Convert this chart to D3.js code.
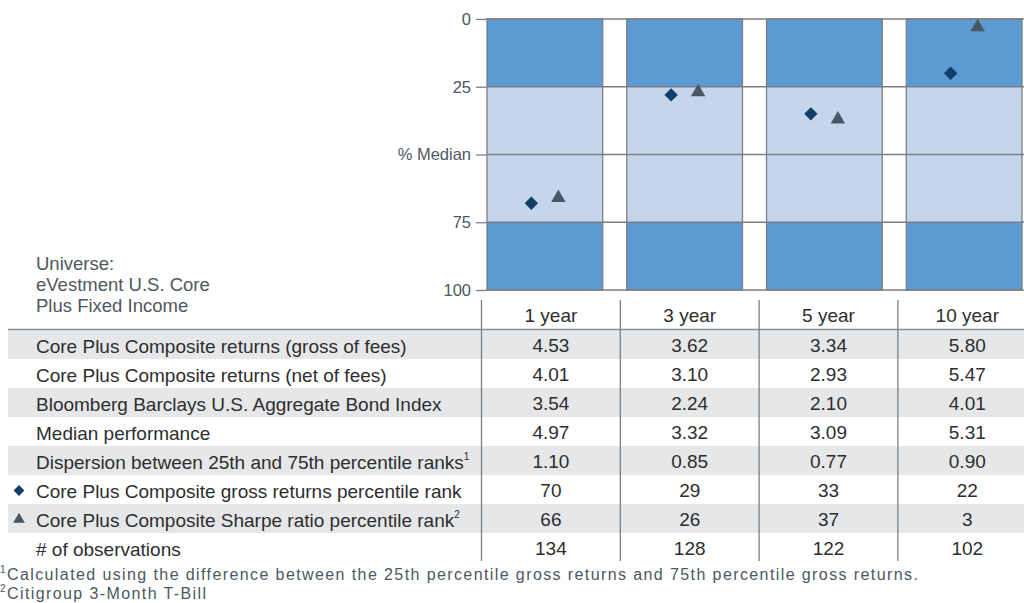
<!DOCTYPE html>
<html>
<head>
<meta charset="utf-8">
<script src="https://cdn.jsdelivr.net/npm/d3@7"></script>
<style>
  body { margin: 0; background: #fff; }
  svg { display: block; font-family: "Liberation Sans", Arial, sans-serif; }
</style>
</head>
<body>
<div id="chart"></div>
<script>
// Periods and table values
const periods = ["1 year", "3 year", "5 year", "10 year"];
const grossReturns = [4.53, 3.62, 3.34, 5.80];
const netReturns = [4.01, 3.10, 2.93, 5.47];
const benchmarkReturns = [3.54, 2.24, 2.10, 4.01];
const medianReturns = [4.97, 3.32, 3.09, 5.31];
const dispersion = [1.10, 0.85, 0.77, 0.90];
const grossRank = [70, 29, 33, 22];
const sharpeRank = [66, 26, 37, 3];
const observations = [134, 128, 122, 102];

// Ranks as they are placed in the chart above the table
const grossRankPlotted = [68, 28, 35, 20];
const sharpeRankPlotted = [66, 27, 37, 3];

const quartileEdges = [0, 25, 75, 100];
const yTicks = [0, 25, 50, 75, 100];
const yTickLabels = ["0", "25", "% Median", "75", "100"];

const rowLabels = [
    "Core Plus Composite returns (gross of fees)",
    "Core Plus Composite returns (net of fees)",
    "Bloomberg Barclays U.S. Aggregate Bond Index",
    "Median performance",
    "Dispersion between 25th and 75th percentile ranks",
    "Core Plus Composite gross returns percentile rank",
    "Core Plus Composite Sharpe ratio percentile rank",
    "# of observations"
];
const rowSup = ["", "", "", "", "1", "", "2", ""];
const rowMarker = ["", "", "", "", "", "diamond", "triangle", ""];
const universeLines = ["Universe:", "eVestment U.S. Core", "Plus Fixed Income"];
const footnotes = [
    ["1", "Calculated using the difference between the 25th percentile gross returns and 75th percentile gross returns."],
    ["2", "Citigroup 3-Month T-Bill"]
];

const width = 1024, height = 603;
const darkBlue = "#5b9ad3", lightBlue = "#c5d6ec";
const gridColor = "#7b7f83";
const diamondColor = "#123e6a", triangleColor = "#475865";
const textColor = "#2e2e2e";

const svg = d3.select("#chart").append("svg")
    .attr("width", width)
    .attr("height", height);

// Scales
const y = d3.scaleLinear().domain([0, 100]).range([19, 290]);
const x = d3.scaleBand().domain(periods).range([487, 1022]).paddingInner(0.172).paddingOuter(0);
const tx = d3.scaleBand().domain(periods).range([481.5, 481.5 + 4 * 138.8]);

const fmt2 = d3.format(".2f");
const tableRows = [
    grossReturns.map(fmt2),
    netReturns.map(fmt2),
    benchmarkReturns.map(fmt2),
    medianReturns.map(fmt2),
    dispersion.map(fmt2),
    grossRank.map(String),
    sharpeRank.map(String),
    observations.map(String)
];

// Quartile bands per column
const bandPairs = d3.pairs(quartileEdges);
periods.forEach(p => {
    bandPairs.forEach((pair, i) => {
        svg.append("rect")
            .attr("x", x(p))
            .attr("y", y(pair[0]))
            .attr("width", x.bandwidth())
            .attr("height", y(pair[1]) - y(pair[0]))
            .attr("fill", i === 1 ? lightBlue : darkBlue);
    });
});

// Horizontal gridlines across the chart
svg.append("g").selectAll("line")
    .data(yTicks)
    .join("line")
    .attr("x1", 486).attr("x2", width)
    .attr("y1", d => y(d)).attr("y2", d => y(d))
    .attr("stroke", gridColor)
    .attr("stroke-width", 1.3);

// Column outlines
svg.append("g").selectAll("rect")
    .data(periods)
    .join("rect")
    .attr("x", d => x(d))
    .attr("y", y(0))
    .attr("width", x.bandwidth())
    .attr("height", y(100) - y(0))
    .attr("fill", "none")
    .attr("stroke", gridColor)
    .attr("stroke-width", 1.3);

// Y axis
const yAxis = svg.append("g")
    .attr("transform", "translate(486,0)")
    .call(d3.axisLeft(y).tickValues(yTicks).tickSize(10).tickPadding(5)
        .tickFormat((d, i) => yTickLabels[i]));
yAxis.select(".domain").remove();
yAxis.selectAll(".tick line").attr("stroke", gridColor).attr("stroke-width", 1.3);
yAxis.selectAll(".tick text")
    .attr("fill", "#50575e")
    .style("font-size", "16.5px")
    .style("font-family", "'Liberation Sans', Arial, sans-serif");

// Markers
const diamond = d3.symbol().type(d3.symbolSquare).size(90);
const triangle = d3.symbol().type(d3.symbolTriangle).size(90);
const cx = p => x(p) + x.bandwidth() / 2;

svg.append("g").selectAll("path")
    .data(periods)
    .join("path")
    .attr("d", diamond)
    .attr("transform", (d, i) => `translate(${cx(d) - 13.5},${y(grossRankPlotted[i])}) rotate(45)`)
    .attr("fill", diamondColor);

svg.append("g").selectAll("path")
    .data(periods)
    .join("path")
    .attr("d", triangle)
    .attr("transform", (d, i) => `translate(${cx(d) + 13.5},${y(sharpeRankPlotted[i])})`)
    .attr("fill", triangleColor);

// Universe label
svg.append("g").selectAll("text")
    .data(universeLines)
    .join("text")
    .attr("x", 36)
    .attr("y", (d, i) => 263 + i * 21)
    .attr("dominant-baseline", "central")
    .attr("fill", "#50575e")
    .style("font-size", "18.5px")
    .text(d => d);

// Table
const headerTop = 300, bodyTop = 330, rowH = 29;
const tableBottom = bodyTop + rowH * rowLabels.length;

rowLabels.forEach((label, i) => {
    if (i % 2 === 0) {
        svg.append("rect")
            .attr("x", 8)
            .attr("y", bodyTop + i * rowH)
            .attr("width", width - 8)
            .attr("height", rowH)
            .attr("fill", "#e5e7e9");
    }
});

svg.append("line")
    .attr("x1", 8).attr("x2", width)
    .attr("y1", bodyTop - 0.5).attr("y2", bodyTop - 0.5)
    .attr("stroke", "#8d9195")
    .attr("stroke-width", 1.3);

svg.append("g").selectAll("line")
    .data(periods)
    .join("line")
    .attr("x1", d => tx(d)).attr("x2", d => tx(d))
    .attr("y1", headerTop).attr("y2", tableBottom - 1)
    .attr("stroke", "#7b7f83")
    .attr("stroke-width", 1.3);

svg.append("g").selectAll("text")
    .data(periods)
    .join("text")
    .attr("x", d => tx(d) + tx.bandwidth() / 2)
    .attr("y", 315)
    .attr("text-anchor", "middle")
    .attr("dominant-baseline", "central")
    .attr("fill", textColor)
    .style("font-size", "19px")
    .text(d => d);

rowLabels.forEach((label, i) => {
    const rowY = bodyTop + i * rowH + rowH / 2 + 1;
    const t = svg.append("text")
        .attr("x", 36)
        .attr("y", rowY)
        .attr("dominant-baseline", "central")
        .attr("fill", textColor)
        .style("font-size", "19px");
    t.append("tspan").text(label);
    if (rowSup[i]) {
        t.append("tspan")
            .attr("dy", -6)
            .style("font-size", "10px")
            .text(rowSup[i]);
    }
    if (rowMarker[i] === "diamond") {
        svg.append("path")
            .attr("d", d3.symbol().type(d3.symbolSquare).size(58))
            .attr("transform", `translate(19,${rowY}) rotate(45)`)
            .attr("fill", diamondColor);
    } else if (rowMarker[i] === "triangle") {
        svg.append("path")
            .attr("d", d3.symbol().type(d3.symbolTriangle).size(58))
            .attr("transform", `translate(19,${rowY})`)
            .attr("fill", triangleColor);
    }
    svg.append("g").selectAll("text")
        .data(tableRows[i])
        .join("text")
        .attr("x", (d, j) => tx(periods[j]) + tx.bandwidth() / 2)
        .attr("y", rowY)
        .attr("text-anchor", "middle")
        .attr("dominant-baseline", "central")
        .attr("fill", textColor)
        .style("font-size", "19px")
        .text(d => d);
});

// Footnotes
footnotes.forEach((f, i) => {
    const t = svg.append("text")
        .attr("x", 0)
        .attr("y", 574 + i * 19)
        .attr("dominant-baseline", "central")
        .attr("fill", "#4b5863")
        .style("font-size", "16px")
        .style("letter-spacing", "1.4px");
    t.append("tspan").attr("dy", -5).style("font-size", "10px").text(f[0]);
    t.append("tspan").attr("dy", 5).text(f[1]);
});
</script>
</body>
</html>
